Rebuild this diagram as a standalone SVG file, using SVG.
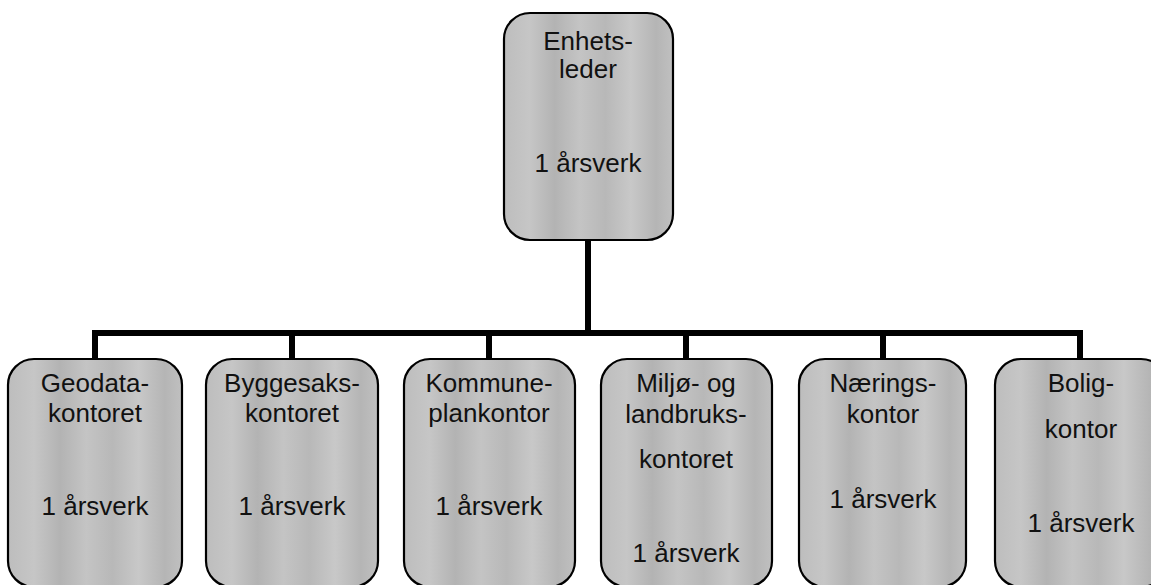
<svg xmlns="http://www.w3.org/2000/svg" width="1151" height="585" viewBox="0 0 1151 585">
<style>
.box{fill:url(#g);stroke:#000;stroke-width:2.2}
.t{font-family:"Liberation Sans",Arial,sans-serif;font-size:26px;fill:#111;text-anchor:middle}
.c{stroke:#000;stroke-width:6;fill:none;stroke-linecap:square}
</style>
<defs>
<linearGradient id="g" x1="0" y1="0" x2="1" y2="0">
<stop offset="0" stop-color="#bdbdbd"/>
<stop offset="0.15" stop-color="#c6c6c6"/>
<stop offset="0.3" stop-color="#b3b3b3"/>
<stop offset="0.45" stop-color="#c4c4c4"/>
<stop offset="0.6" stop-color="#b8b8b8"/>
<stop offset="0.75" stop-color="#c8c8c8"/>
<stop offset="0.9" stop-color="#b5b5b5"/>
<stop offset="1" stop-color="#c0c0c0"/>
</linearGradient>
</defs>
<rect width="1151" height="585" fill="#fff"/>
<g id="connectors">
<path class="c" d="M588 240 V333"/>
<path class="c" d="M95 358 V333 H1080 V358"/>
<path class="c" d="M292 333 V358 M489 333 V358 M686 333 V358 M883 333 V358"/>
</g>
<g id="enhetsleder">
<rect class="box" x="504" y="13" width="169" height="227" rx="26"/>
<text class="t" x="588" y="50">Enhets-</text>
<text class="t" x="588" y="78">leder</text>
<text class="t" x="588" y="172">1 årsverk</text>
</g>
<g id="geodata">
<rect class="box" x="8" y="359" width="174" height="228" rx="26"/>
<text class="t" x="95" y="392">Geodata-</text>
<text class="t" x="95" y="422">kontoret</text>
<text class="t" x="95" y="515">1 årsverk</text>
</g>
<g id="byggesak">
<rect class="box" x="206" y="359" width="172" height="228" rx="26"/>
<text class="t" x="292" y="392">Byggesaks-</text>
<text class="t" x="292" y="422">kontoret</text>
<text class="t" x="292" y="515">1 årsverk</text>
</g>
<g id="kommuneplan">
<rect class="box" x="404" y="359" width="171" height="228" rx="26"/>
<text class="t" x="489" y="392">Kommune-</text>
<text class="t" x="489" y="422">plankontor</text>
<text class="t" x="489" y="515">1 årsverk</text>
</g>
<g id="miljo">
<rect class="box" x="601" y="359" width="171" height="228" rx="26"/>
<text class="t" x="686" y="392">Miljø- og</text>
<text class="t" x="686" y="423">landbruks-</text>
<text class="t" x="686" y="468">kontoret</text>
<text class="t" x="686" y="562">1 årsverk</text>
</g>
<g id="naering">
<rect class="box" x="799" y="359" width="167" height="228" rx="26"/>
<text class="t" x="883" y="392">Nærings-</text>
<text class="t" x="883" y="423">kontor</text>
<text class="t" x="883" y="508">1 årsverk</text>
</g>
<g id="bolig">
<rect class="box" x="995" y="359" width="172" height="228" rx="26"/>
<text class="t" x="1081" y="392">Bolig-</text>
<text class="t" x="1081" y="438">kontor</text>
<text class="t" x="1081" y="532">1 årsverk</text>
</g>
</svg>
